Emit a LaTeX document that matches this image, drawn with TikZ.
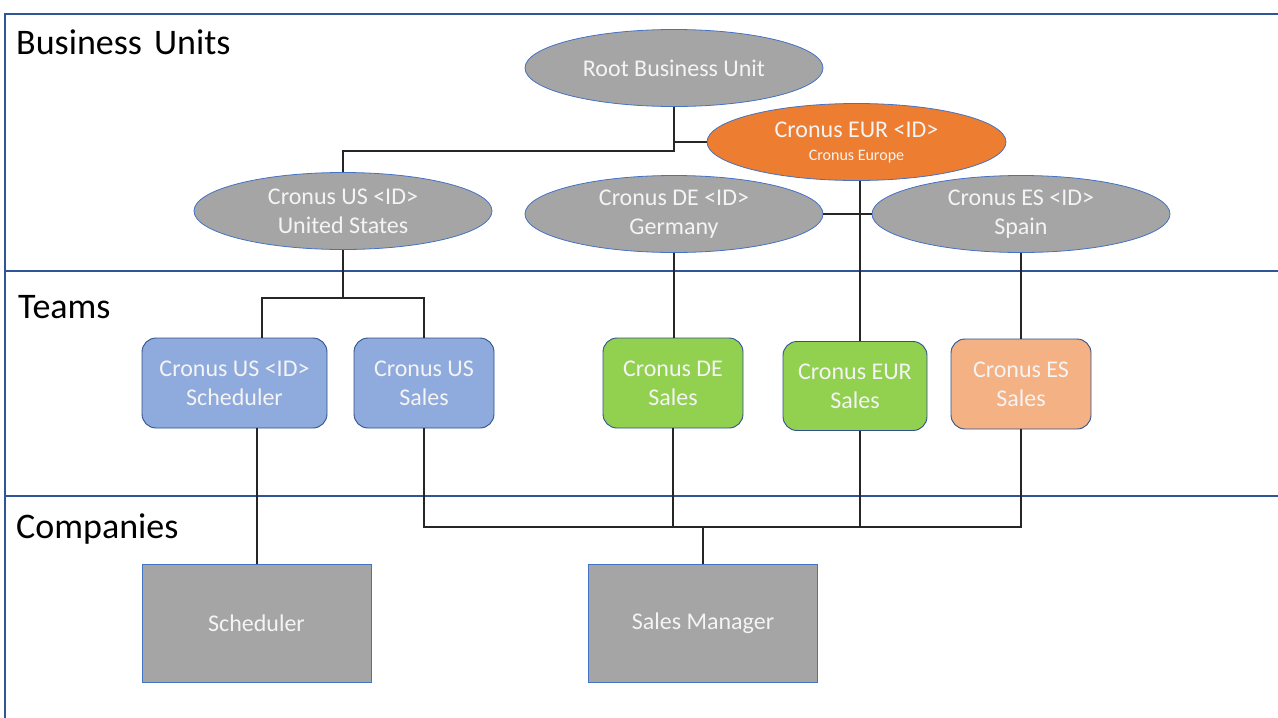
\documentclass[tikz,border=0pt]{standalone}
\usepackage{fontspec}
\setmainfont{Carlito}
\usetikzlibrary{shapes.geometric}
\definecolor{frameblue}{HTML}{2F5597}
\definecolor{edgeblue}{HTML}{4472C4}
\definecolor{edgedark}{HTML}{2F528F}
\definecolor{grayfill}{HTML}{A5A5A5}
\definecolor{orangefill}{HTML}{ED7D31}
\definecolor{bluefill}{HTML}{8FAADC}
\definecolor{greenfill}{HTML}{92D050}
\definecolor{peachfill}{HTML}{F4B183}
\definecolor{textwhite}{HTML}{F4F4F4}
\begin{document}
\begin{tikzpicture}[x=1pt,y=-1pt,
  bu/.style={ellipse, draw=edgeblue, line width=0.8pt, fill=grayfill, text=textwhite,
    minimum width=298pt, minimum height=77pt, inner sep=0pt, align=center,
    font=\fontsize{24}{29}\selectfont},
  team/.style={rectangle, rounded corners=14pt, draw=edgedark, line width=0.9pt, text=textwhite,
    minimum height=90pt, inner sep=0pt, align=center, font=\fontsize{24}{29}\selectfont},
  comp/.style={rectangle, draw=edgeblue, line width=0.9pt, fill=grayfill, text=textwhite,
    minimum width=229pt, minimum height=118pt, inner sep=0pt, font=\fontsize{24}{29}\selectfont},
  conn/.style={draw=black!85, line width=1.2pt},
  frameline/.style={draw=frameblue, line width=1.2pt},
  section/.style={anchor=base west, inner sep=0pt, font=\fontsize{36}{43}\selectfont}
]
\useasboundingbox (0,0) rectangle (1278,718);

% frame
\draw[frameline] (1278,14) -- (5,14) -- (5,718);
\draw[frameline] (5,271) -- (1278,271);
\draw[frameline] (5,496) -- (1278,496);

% section labels
\node[section] (lbu) at (16,54) {Business \hspace{4pt}Units};
\node[section] (lteams) at (18,318) {Teams};
\node[section] (lcomp) at (16,538) {Companies};

% business units
\node[bu] (root) at (674,68) {Root Business Unit};
\node[bu, fill=orangefill, minimum width=299pt] (eur) at (856.5,142)
  {Cronus EUR <ID>\\[-6pt]{\fontsize{16}{18}\selectfont Cronus Europe}};
\node[bu] (us) at (343,211) {Cronus US <ID>\\United States};
\node[bu] (de) at (674,214) {Cronus DE <ID>\\Germany};
\node[bu] (es) at (1021,214) {Cronus ES <ID>\\Spain};

% teams
\node[team, fill=bluefill, minimum width=185pt] (ussched) at (234.5,383) {Cronus US <ID>\\Scheduler};
\node[team, fill=bluefill, minimum width=140pt] (ussales) at (424,383) {Cronus US\\Sales};
\node[team, fill=greenfill, minimum width=140pt] (desales) at (673,383) {Cronus DE\\Sales};
\node[team, fill=greenfill, minimum width=144pt, minimum height=89pt] (eursales) at (855,386) {Cronus EUR\\Sales};
\node[team, fill=peachfill, minimum width=140pt] (essales) at (1021,384) {Cronus ES\\Sales};

% companies
\node[comp] (sched) at (256.5,623) {Scheduler};
\node[comp] (salesmgr) at (703,623) {Sales Manager};

% connectors: business units
\coordinate (rootj) at (674,151);
\draw[conn] (root.south) -- (rootj) -| (us.north);
\draw[conn] (root.south |- eur.west) -- (eur.west);
\draw[conn] (de.east) -- (es.west);
\coordinate (eurx) at (860,0);
\draw[conn] (eurx |- eur.south) -- (eurx |- eursales.north);
\draw[conn] (de.south) -- (de.south |- desales.north);
\draw[conn] (es.south) -- (essales.north);

% connectors: US teams
\coordinate (usj) at (343,298);
\draw[conn] (us.south) -- (usj);
\draw[conn] (262,0 |- ussched.north) |- (usj) -| (ussales.north);

% connectors: companies
\coordinate (schx) at (257,0);
\draw[conn] (schx |- sched.north) -- (schx |- ussched.south);
\coordinate (bus) at (703,527);
\draw[conn] (ussales.south) |- (bus) -| (essales.south);
\draw[conn] (desales.south) -- (desales.south |- bus);
\draw[conn] (eurx |- eursales.south) -- (eurx |- bus);
\draw[conn] (bus) -- (salesmgr.north);
\end{tikzpicture}
\end{document}
